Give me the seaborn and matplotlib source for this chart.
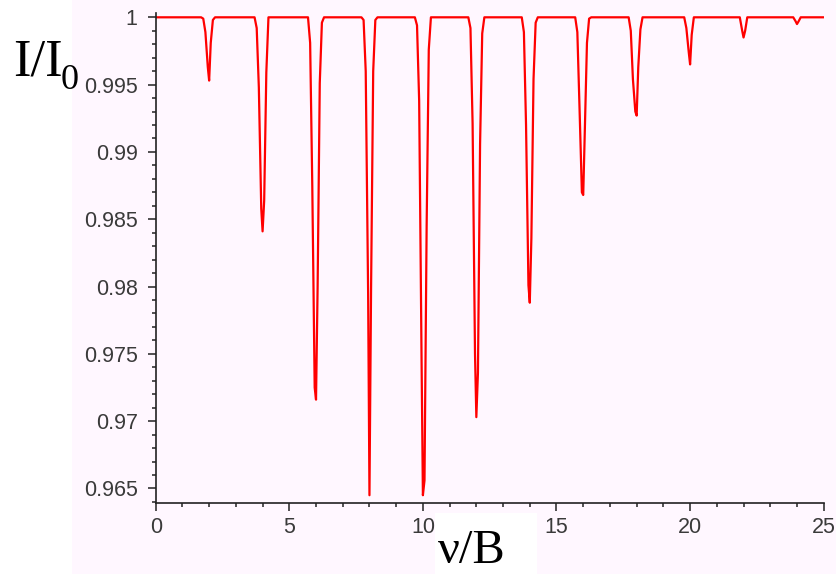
import numpy as np
import seaborn as sns
import matplotlib.pyplot as plt
from matplotlib.patches import Rectangle
from matplotlib.ticker import MultipleLocator

# absorption dips: centre in nu/B, values of I/I0 around each dip
dip_centers = [2, 4, 6, 8, 10, 12, 14, 16, 18, 20, 22, 24]
dip_offsets = [-0.22, -0.14, -0.05, 0.0, 0.06, 0.14, 0.22]
dip_values = [
    [0.9999, 0.9989, 0.9963, 0.9953, 0.9981, 0.9998, 1.0],
    [0.9992, 0.9948, 0.9858, 0.9841, 0.9864, 0.9959, 1.0],
    [0.9981, 0.9875, 0.9725, 0.9716, 0.9800, 0.9951, 0.9996],
    [0.9998, 0.9960, 0.9795, 0.9645, 0.9798, 0.9960, 0.9998],
    [0.9994, 0.9938, 0.9746, 0.9645, 0.9656, 0.9845, 0.9976],
    [0.9992, 0.9921, 0.9750, 0.9703, 0.9736, 0.9906, 0.9988],
    [0.9989, 0.9920, 0.9801, 0.9788, 0.9836, 0.9954, 0.9996],
    [0.9989, 0.9934, 0.9870, 0.9868, 0.9916, 0.9981, 0.9999],
    [0.9990, 0.9954, 0.9930, 0.9927, 0.9963, 0.9991, 1.0],
    [1.0, 0.9992, 0.9974, 0.9965, 0.9987, 1.0, 1.0],
    [1.0, 1.0, 0.9990, 0.9985, 0.9990, 1.0, 1.0],
    [1.0, 1.0, 0.9997, 0.9995, 0.9997, 1.0, 1.0],
]
baseline = 1.0
x_start, x_end = 0, 25

# assemble the trace
xs = [x_start]
ys = [baseline]
for c, vals in zip(dip_centers, dip_values):
    xs.append(c - 0.3); ys.append(baseline)
    for o, v in zip(dip_offsets, vals):
        xs.append(c + o); ys.append(v)
    xs.append(c + 0.3); ys.append(baseline)
xs.append(x_end); ys.append(baseline)

sns.set_theme(style="ticks")
plt.rcParams['font.family'] = ['Liberation Sans', 'DejaVu Sans']

fig = plt.figure(figsize=(8.37, 5.74), dpi=100)
fig.patch.set_facecolor('white')
# pale pink canvas and white label box
fig.patches.append(Rectangle((72/837, 0), 1 - 72/837, 1, transform=fig.transFigure,
                             facecolor='#fff7ff', edgecolor='none', zorder=-2))
fig.patches.append(Rectangle((435/837, 0), 102/837, 61/574, transform=fig.transFigure,
                             facecolor='white', edgecolor='none', zorder=-1))

ax = fig.add_axes([155.7/837, 1 - 503.3/574, 668/837, 490.3/574])
ax.set_facecolor('none')
sns.lineplot(x=xs, y=ys, ax=ax, color='#ff0000', linewidth=1.6, sort=False, estimator=None)

ax.set_xlim(0, 25)
ax.set_ylim(0.9639, 1.00032)
ax.xaxis.set_major_locator(MultipleLocator(5))
ax.xaxis.set_minor_locator(MultipleLocator(1))
ax.yaxis.set_major_locator(MultipleLocator(0.005))
ax.yaxis.set_minor_locator(MultipleLocator(0.001))
ax.yaxis.set_major_formatter(plt.FuncFormatter(lambda v, p: ('%g' % round(v, 3))))

for s in ['top', 'right']:
    ax.spines[s].set_visible(False)
for s in ['left', 'bottom']:
    ax.spines[s].set_color('#222222')
    ax.spines[s].set_linewidth(1.2)

ax.tick_params(axis='both', which='major', length=6, width=1.1, color='#222222',
               labelsize=15.5, labelcolor='#3a3a3a')
ax.tick_params(axis='both', which='minor', length=3, width=1.1, color='#222222')
ax.tick_params(axis='y', which='major', pad=7)
ax.tick_params(axis='x', which='major', pad=4)

fig.text(13/837, 1 - 76/574, 'I/I', fontsize=38, family='Liberation Serif',
         va='baseline', ha='left', color='black')
fig.text(61/837, 1 - 89/574, '0', fontsize=26, family='Liberation Serif',
         va='baseline', ha='left', color='black')
fig.text(438/837, 1 - 563/574, 'ν/B', fontsize=35, family='Liberation Serif',
         va='baseline', ha='left', color='black')

fig.savefig('out.png', dpi=100)
